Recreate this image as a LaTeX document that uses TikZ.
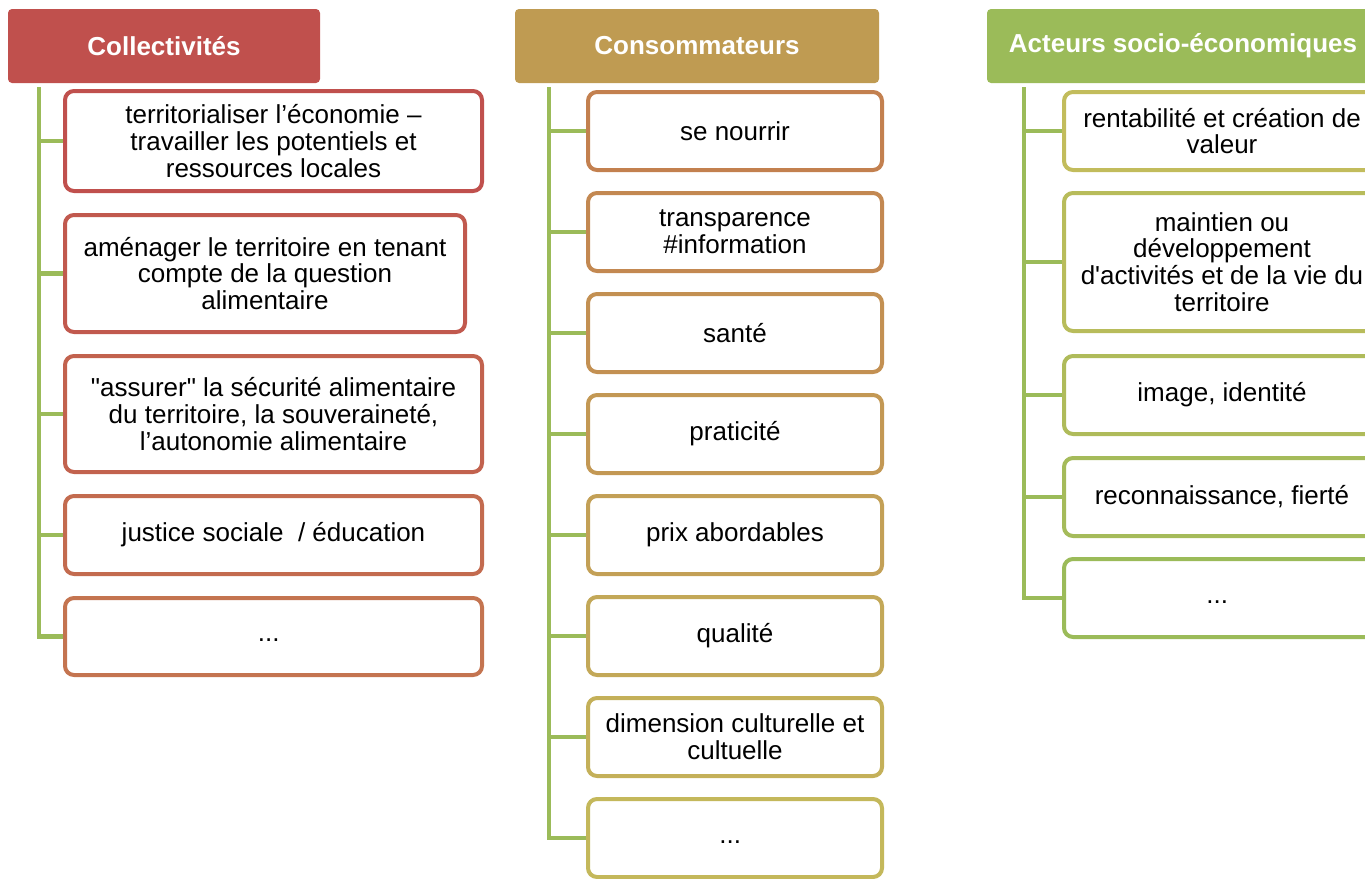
\documentclass[tikz,border=0pt]{standalone}
\usepackage{fontspec}
\setmainfont{Liberation Sans}[Ligatures=TeXOff]
\newcommand{\etcaetera}{\strut...}

\definecolor{hdred}{HTML}{C0504D}
\definecolor{hdgold}{HTML}{BF9B52}
\definecolor{hdgreen}{HTML}{9BBB59}
% box borders, red -> gold -> green
\definecolor{ca1}{HTML}{C0504D}
\definecolor{ca2}{HTML}{C1594E}
\definecolor{ca3}{HTML}{C2624E}
\definecolor{ca4}{HTML}{C36B4F}
\definecolor{ca5}{HTML}{C47450}
\definecolor{cb1}{HTML}{C3804F}
\definecolor{cb2}{HTML}{C38851}
\definecolor{cb3}{HTML}{C39052}
\definecolor{cb4}{HTML}{C39854}
\definecolor{cb5}{HTML}{C3A056}
\definecolor{cb6}{HTML}{C3A858}
\definecolor{cb7}{HTML}{C4B059}
\definecolor{cb8}{HTML}{C4B85B}
\definecolor{cc1}{HTML}{C2BC5C}
\definecolor{cc2}{HTML}{B8BC5B}
\definecolor{cc3}{HTML}{AFBB5A}
\definecolor{cc4}{HTML}{A5BB5A}
\definecolor{cc5}{HTML}{9BBB59}

\tikzset{
  head/.style={fill=#1, rounded corners=4pt, minimum height=74pt, text=white,
    font=\bfseries\fontsize{26}{26.5}\selectfont},
  item/.style={draw=#1, fill=white, line width=4pt, rounded corners=9pt,
    minimum height=78pt, align=center, font=\fontsize{26}{26.8}\selectfont},
  stem/.style={draw=hdgreen, line width=4.5pt}
}

\begin{document}
\begin{tikzpicture}[x=1pt,y=-1pt]
\useasboundingbox (0,0) rectangle (1365,878);
\clip (0,0) rectangle (1365,878);

\node[head=hdred, minimum width=312pt] (coll) at (164,46) {Collectivités};
\node[head=hdgold, minimum width=364pt] (cons) at (697,46) {Consommateurs};
\node[head=hdgreen, minimum width=392pt] (act) at (1183,46) {Acteurs socio-économiques};

% Collectivites
\foreach \n/\y/\h/\w/\c/\t in
  {1/141/100/417/ca1/{territorialiser l’économie –\\travailler les potentiels et\\ressources locales},
   2/273.5/117/400/ca2/{aménager le territoire en tenant\\compte de la question\\alimentaire},
   3/414/116/417/ca3/{"assurer" la sécurité alimentaire\\du territoire, la souveraineté,\\l’autonomie alimentaire},
   4/535/78/417/ca4/{justice sociale\ \ / éducation},
   5/636.5/77/417/ca5/{\etcaetera}
  }
  \node[item=\c, minimum height=\h*1pt, minimum width=\w*1pt] (coll\n) at ({65+\w/2},\y) {\t};

% Consommateurs
\foreach \n/\c/\t in
  {1/cb1/{se nourrir},
   2/cb2/{transparence\\\#information},
   3/cb3/{santé},
   4/cb4/{praticité},
   5/cb5/{prix abordables},
   6/cb6/{qualité},
   7/cb7/{dimension culturelle et\\cultuelle},
   8/cb8/{\etcaetera}
  }
  \node[item=\c, minimum width=294pt] (cons\n) at (735,{131+101*(\n-1)}) {\t};

% Acteurs
\foreach \n/\y/\h/\c/\t in
  {1/131/78/cc1/{rentabilité et création de\\valeur},
   2/262/138/cc2/{maintien ou\\développement\\d'activités et de la vie du\\territoire},
   3/395/78/cc3/{image, identité},
   4/497/78/cc4/{reconnaissance, fierté},
   5/598/78/cc5/{\etcaetera}
  }
  \node[item=\c, minimum height=\h*1pt, minimum width=316pt] (act\n) at (1222,\y) {\t};

\coordinate (collstem) at (39,87);
\coordinate (consstem) at (549,87);
\coordinate (actstem) at (1024,87);

\draw[stem] (collstem) |- (coll5.west);
\foreach \n in {1,...,4}
  \draw[stem] (collstem |- coll\n.west) -- (coll\n.west);
\draw[stem] (consstem) |- (cons8.west);
\foreach \n in {1,...,7}
  \draw[stem] (consstem |- cons\n.west) -- (cons\n.west);
\draw[stem] (actstem) |- (act5.west);
\foreach \n in {1,...,4}
  \draw[stem] (actstem |- act\n.west) -- (act\n.west);
\end{tikzpicture}
\end{document}
